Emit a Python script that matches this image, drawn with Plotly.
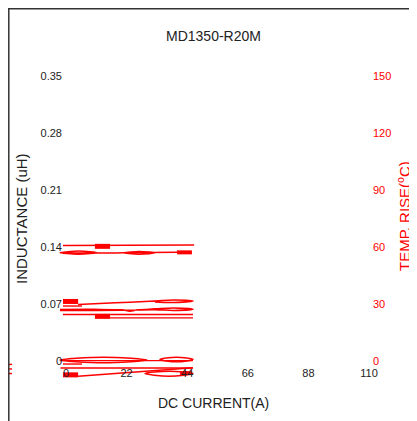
import plotly.graph_objects as go

# visible figure area (page body adds an 8px offset)
W, H = 409, 413
FONT = "Liberation Sans, Arial, sans-serif"
RED = "#ff0000"

# axis ticks
x_ticks = [0, 22, 44, 66, 88, 110]
y_ticks = [0, 0.07, 0.14, 0.21, 0.28, 0.35]
y_tick_text = ["0", "0.07", "0.14", "0.21", "0.28", "0.35"]
y2_ticks = [0, 30, 60, 90, 120, 150]

# axis ranges (visible window)
x_range = [-21.05, 127.4]
y_range = [-0.0737, 0.4335]
Y2_SCALE = 150 / 0.35
y2_range = [y_range[0] * Y2_SCALE, y_range[1] * Y2_SCALE]

# ---- inductance series (uH), band near 0.14 ----
a_top_x = [-1.1, 46.5]
a_top_y = [0.1418, 0.1424]
a_blk1_x = [10.5, 16.0]
a_blk1_y = [0.1408, 0.1408]
a_low_x = [-2.2, 4.5, 11.3, 4.5, -2.2, 8, 20.7, 26.5, 32.3, 26.5, 20.7, 30, 40.3]
a_low_y = [0.1330, 0.1350, 0.1330, 0.1312, 0.1330, 0.1326, 0.1328, 0.1346, 0.1328, 0.1312, 0.1328, 0.1332, 0.1334]
a_blk2_x = [40.3, 45.7]
a_blk2_y = [0.1334, 0.1334]

# ---- inductance series (uH), band near 0.07 ----
b_blk_x = [-1.1, 4.4]
b_blk_y = [0.0731, 0.0731]
b_l1_x = [-1.1, 5.8]
b_l1_y = [0.0675, 0.0675]
b_rise_x = [4.4, 18, 32.3, 39, 46.1, 39, 32.3]
b_rise_y = [0.0695, 0.0715, 0.0737, 0.0750, 0.0737, 0.0718, 0.0725]
b_row2_x = [-2.2, 10, 20.3, 23.2, 26.1, 32.3, 39, 46.1, 39, 32.3, 20, -2.2]
b_row2_y = [0.0632, 0.0634, 0.0628, 0.0612, 0.0628, 0.0640, 0.0652, 0.0636, 0.0620, 0.0630, 0.0622, 0.0620]
b_row3_x = [-1.1, 46.1]
b_row3_y = [0.0571, 0.0571]
b_blk2_x = [10.5, 16.0]
b_blk2_y = [0.0548, 0.0548]
b_row4_x = [16.0, 46.1]
b_row4_y = [0.0530, 0.0530]

# ---- temperature series (degC), band near 0 ----
c_eye1_x = [-2.2, 13.6, 29.4, 13.6, -2.2]
c_eye1_y = [0.5, 2.0, 0.5, -0.9, 0.5]
c_eye2_x = [34.1, 40.1, 46.1, 40.1, 34.1]
c_eye2_y = [0.8, 2.0, 0.8, -0.4, 0.8]
c_mid_x = [-2.2, 46.1]
c_mid_y = [0.2, 0.2]
c_short_x = [-1.1, 5.8]
c_short_y = [-1.6, -1.6]
c_row3_x = [-2.0, 46.1]
c_row3_y = [-3.7, -3.7]
c_blk_x = [-1.1, 4.4]
c_blk_y = [-7.3, -7.3]
c_diag_x = [4.4, 46.1]
c_diag_y = [-8.0, -3.6]
c_eye3_x = [28.7, 37.4, 46.1, 37.4, 28.7]
c_eye3_y = [-6.6, -5.4, -6.6, -8.0, -6.6]
c_blk2_x = [41.4, 45.7]
c_blk2_y = [-6.4, -6.4]
c_out_x = [-21.1, -19.6]
c_out1_y = [-1.8, -1.8]
c_out2_y = [-4.2, -4.2]
c_out3_y = [-6.6, -6.6]

fig = go.Figure()


def add(x, y, width=1.4, spline=False, axis="y"):
    fig.add_trace(go.Scatter(
        x=x, y=y, mode="lines", yaxis=axis, showlegend=False, hoverinfo="skip",
        line=dict(color=RED, width=width, shape="spline" if spline else "linear", smoothing=1.0),
    ))


add(a_top_x, a_top_y)
add(a_blk1_x, a_blk1_y, 5)
add(a_low_x, a_low_y, 1.5, True)
add(a_blk2_x, a_blk2_y, 4)

add(b_blk_x, b_blk_y, 5)
add(b_l1_x, b_l1_y)
add(b_rise_x, b_rise_y, 1.5, True)
add(b_row2_x, b_row2_y, 1.5, True)
add(b_row3_x, b_row3_y)
add(b_blk2_x, b_blk2_y, 5)
add(b_row4_x, b_row4_y)

add(c_eye1_x, c_eye1_y, 1.5, True, "y2")
add(c_eye2_x, c_eye2_y, 1.5, True, "y2")
add(c_mid_x, c_mid_y, 1.4, False, "y2")
add(c_short_x, c_short_y, 1.4, False, "y2")
add(c_row3_x, c_row3_y, 1.4, False, "y2")
add(c_blk_x, c_blk_y, 5, False, "y2")
add(c_diag_x, c_diag_y, 1.5, False, "y2")
add(c_eye3_x, c_eye3_y, 1.5, True, "y2")
add(c_blk2_x, c_blk2_y, 4, False, "y2")
add(c_out_x, c_out1_y, 1.4, False, "y2")
add(c_out_x, c_out2_y, 1.4, False, "y2")
add(c_out_x, c_out3_y, 1.4, False, "y2")

axis_common = dict(showgrid=False, zeroline=False, showline=False, ticks="")

fig.update_layout(
    width=W, height=H,
    margin=dict(l=0, r=0, t=0, b=0, pad=0),
    paper_bgcolor="white", plot_bgcolor="white",
    font=dict(family=FONT, size=11, color="#222222"),
    xaxis=dict(domain=[0, 1], range=x_range, tickvals=x_ticks, anchor="free",
               position=(H - 357) / H, tickfont=dict(size=11, color="#222222"), **axis_common),
    yaxis=dict(domain=[0, 1], range=y_range, tickvals=y_ticks, ticktext=y_tick_text,
               anchor="free", position=54 / W, side="left",
               tickfont=dict(size=11, color="#222222"), **axis_common),
    yaxis2=dict(range=y2_range, tickvals=y2_ticks, overlaying="y", anchor="free",
                position=364 / W, side="right",
                tickfont=dict(size=11, color=RED), **axis_common),
    shapes=[
        dict(type="line", xref="paper", yref="paper", x0=0.8 / W, x1=0.8 / W, y0=0, y1=1,
             line=dict(color="#333333", width=1.5)),
        dict(type="line", xref="paper", yref="paper", x0=0, x1=1, y0=(H - 0.8) / H, y1=(H - 0.8) / H,
             line=dict(color="#333333", width=1.5)),
    ],
    annotations=[
        dict(text="MD1350-R20M", xref="paper", yref="paper", x=205 / W, y=(H - 28) / H,
             showarrow=False, font=dict(size=14, color="#222222"), xanchor="center", yanchor="middle"),
        dict(text="DC CURRENT(A)", xref="paper", yref="paper", x=205 / W, y=(H - 395) / H,
             showarrow=False, font=dict(size=14, color="#222222"), xanchor="center", yanchor="middle"),
        dict(text="INDUCTANCE (uH)", xref="paper", yref="paper", x=13 / W, y=(H - 211) / H,
             textangle=-90, showarrow=False, font=dict(size=15, color="#222222"),
             xanchor="center", yanchor="middle"),
        dict(text="TEMP. RISE(<sup>o</sup>C)", xref="paper", yref="paper", x=396 / W, y=(H - 208) / H,
             textangle=-90, showarrow=False, font=dict(size=15, color=RED),
             xanchor="center", yanchor="middle"),
    ],
)

fig.write_html("out.html")
